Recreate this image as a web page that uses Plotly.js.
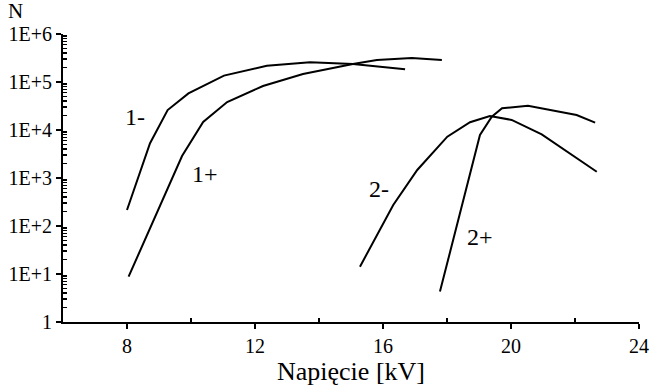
<!DOCTYPE html>
<html>
<head>
<meta charset="utf-8">
<script src="https://cdn.plot.ly/plotly-3.0.1.min.js"></script>
<style>html,body{margin:0;padding:0;background:#fff;}#chart{width:651px;height:391px;}</style>
</head>
<body>
<div id="chart"></div>
<script>
// Series 1- (voltage kV, N)
const x1minus = [8.0, 8.72, 9.27, 9.92, 11.03, 12.37, 13.72, 15.06, 16.69];
const y1minus = [215, 5300, 26000, 58000, 136000, 218000, 258000, 237000, 184000];
// Series 1+
const x1plus = [8.05, 9.72, 10.38, 11.13, 12.25, 13.5, 15.06, 15.81, 16.9, 17.84];
const y1plus = [8.8, 2870, 14700, 38300, 82600, 147000, 237000, 287000, 316000, 287000];
// Series 2-
const x2minus = [15.28, 16.32, 17.07, 18.01, 18.72, 19.34, 20.02, 20.96, 22.68];
const y2minus = [14.2, 274, 1470, 7250, 14500, 19600, 16200, 8130, 1350];
// Series 2+
const x2plus = [17.78, 19.03, 19.4, 19.72, 20.53, 22.05, 22.63];
const y2plus = [4.3, 7870, 18900, 28300, 32100, 20500, 14200];

const seriesLabels = ["1-", "1+", "2-", "2+"];
const xTickVals = [8, 12, 16, 20, 24];
const xMinorTickVals = [10, 14, 18, 22];
const yTickVals = [1, 10, 100, 1000, 10000, 100000, 1000000];
const yTickText = ["1", "1E+1", "1E+2", "1E+3", "1E+4", "1E+5", "1E+6"];
const xTitle = "Napięcie [kV]";
const yTitle = "N";

// minor log ticks: 2..9 in each decade
const yMinorTickVals = [];
for (let d = 0; d < 6; d++) for (let m = 2; m <= 9; m++) yMinorTickVals.push(m * Math.pow(10, d));

const font = "Liberation Serif, Times New Roman, serif";
const line = {color: "#000", width: 2};
const traces = [
  {x: x1minus, y: y1minus, name: seriesLabels[0]},
  {x: x1plus, y: y1plus, name: seriesLabels[1]},
  {x: x2minus, y: y2minus, name: seriesLabels[2]},
  {x: x2plus, y: y2plus, name: seriesLabels[3]}
].map(t => Object.assign(t, {type: "scatter", mode: "lines", line: line, hoverinfo: "skip"}));
// helper traces (no marks) so the overlay minor-tick axes get drawn
traces.push({type: "scatter", mode: "lines", x: [null], y: [null], xaxis: "x2", yaxis: "y", hoverinfo: "skip"});
traces.push({type: "scatter", mode: "lines", x: [null], y: [null], xaxis: "x", yaxis: "y2", hoverinfo: "skip"});

const labelPos = [[8.25, 4.28], [10.45, 3.08], [15.87, 2.77], [19.03, 1.78]];
const annotations = seriesLabels.map((s, i) => ({
  text: s, x: labelPos[i][0], y: labelPos[i][1], xref: "x", yref: "y",
  xanchor: "center", yanchor: "middle",
  showarrow: false, font: {family: font, size: 24, color: "#000"}
}));
annotations.push({
  text: yTitle, xref: "paper", yref: "paper", x: -0.082, y: 1.08,
  xanchor: "center", yanchor: "middle",
  showarrow: false, font: {family: font, size: 21, color: "#000"}
});

const minorCommon = {
  showgrid: false, zeroline: false, showline: false, showticklabels: false,
  ticks: "inside", ticklen: 4, tickwidth: 1.5, tickcolor: "#000"
};

const layout = {
  width: 651, height: 391,
  margin: {l: 63, r: 12, t: 34, b: 69},
  paper_bgcolor: "#fff", plot_bgcolor: "#fff",
  showlegend: false,
  font: {family: font, size: 20, color: "#000"},
  xaxis: {
    range: [6, 24], tickmode: "array", tickvals: xTickVals,
    showgrid: false, zeroline: false,
    showline: true, linecolor: "#000", linewidth: 2,
    ticks: "outside", ticklen: 5, tickwidth: 2, tickcolor: "#000",
    tickfont: {family: font, size: 20, color: "#000"},
    title: {text: xTitle, font: {family: font, size: 26, color: "#000"}, standoff: 2}
  },
  xaxis2: Object.assign({
    overlaying: "x", anchor: "y", side: "bottom", range: [6, 24],
    tickmode: "array", tickvals: xMinorTickVals
  }, minorCommon),
  yaxis: {
    type: "log", range: [0, 6],
    tickmode: "array", tickvals: yTickVals, ticktext: yTickText,
    showgrid: false, zeroline: false,
    showline: true, linecolor: "#000", linewidth: 2,
    ticks: "outside", ticklen: 5, tickwidth: 2, tickcolor: "#000",
    tickfont: {family: font, size: 20, color: "#000"}
  },
  yaxis2: Object.assign({
    overlaying: "y", anchor: "x", side: "left", type: "log", range: [0, 6],
    tickmode: "array", tickvals: yMinorTickVals
  }, minorCommon),
  annotations: annotations
};

Plotly.newPlot("chart", traces, layout, {staticPlot: true, displayModeBar: false});
</script>
</body>
</html>
